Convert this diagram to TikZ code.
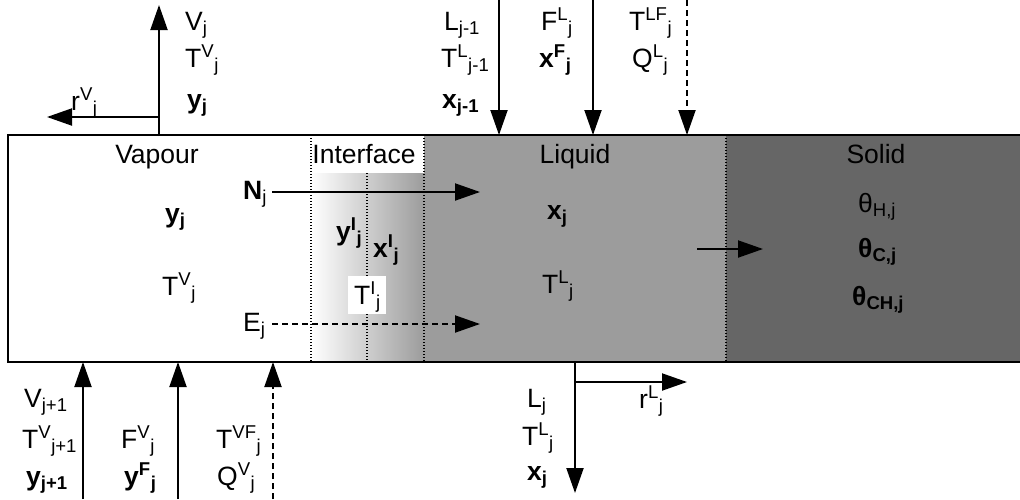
\documentclass[tikz,border=0pt]{standalone}
\usepackage{fontspec}
\setmainfont{Liberation Sans}
\usetikzlibrary{arrows.meta}
\definecolor{liq}{HTML}{9C9C9C}
\definecolor{sol}{HTML}{666666}
\newcommand\myhi[1]{\textsuperscript{#1}}
\newcommand\mylo[1]{\textsubscript{#1}}
\begin{document}
\begin{tikzpicture}[x=1pt,y=-1pt,
  every node/.style={font=\fontsize{26.5}{31}\selectfont, inner sep=0pt},
  lab/.style={anchor=base west},
  ctr/.style={anchor=base},
  flow/.style={line width=2pt, -{Triangle[length=25pt,width=17pt]}},
  dflow/.style={flow, dash pattern=on 6pt off 4pt},
  sep/.style={line width=1.4pt, dash pattern=on 1.4pt off 1.6pt}]
\useasboundingbox (0,0) rectangle (1020,499);
\fill[white] (0,0) rectangle (1020,499);
% regions
\fill[liq] (424,135) rectangle (726,362);
\fill[sol] (726,135) rectangle (1024,362);
\shade[left color=white, right color=liq] (311,173) rectangle (424,362);
\draw[sep] (311,135) -- (311,362);
\draw[sep] (367,173) -- (367,362);
\draw[sep] (424,135) -- (424,362);
\draw[sep] (726,135) -- (726,362);
\draw[line width=2pt] (8,135) rectangle (1024,362);
% region titles
\node[ctr] (tvap) at (157,163) {Vapour};
\node[ctr] (tint) at (364,163) {Interface};
\node[ctr] (tliq) at (575,163) {Liquid};
\node[ctr] (tsol) at (876,163) {Solid};
% interior labels
\node[lab] (yj) at (165,222) {\textbf{y\mylo{j}}};
\node[lab] (tvj) at (162,295) {T\myhi{V}\mylo{j}};
\node[lab] (xj) at (547,219) {\textbf{x\mylo{j}}};
\node[lab] (tlj) at (542,293) {T\myhi{L}\mylo{j}};
\node[lab] (nj) at (243,199) {\textbf{N}\mylo{j}};
\node[lab] (ej) at (243,331) {E\mylo{j}};
\node[lab] (yij) at (336,240) {\textbf{y\myhi{I}\mylo{j}}};
\node[lab] (xij) at (373,257) {\textbf{x\myhi{I}\mylo{j}}};
\fill[white] (348,276) rectangle (386,314);
\node[lab] (tij) at (354,304) {T\myhi{I}\mylo{j}};
\node[lab] (thh) at (858,212) {θ\mylo{H,j}};
\node[lab] (thc) at (858,257) {\textbf{θ\mylo{C,j}}};
\node[lab] (thch) at (852,305) {\textbf{θ\mylo{CH,j}}};
% interior arrows
\coordinate (ns) at (272,192); \coordinate (ne) at (480,192);
\draw[flow] (ns) -- (ne);
\coordinate (es) at (272,324); \coordinate (ee) at (480,324);
\draw[dflow] (es) -- (ee);
\coordinate (ss) at (697,249); \coordinate (se) at (763,249);
\draw[flow] (ss) -- (se);
% vapour out (top left)
\coordinate (vb) at (159,136); \coordinate (vt) at (159,5);
\draw[flow] (vb) -- (vt);
\coordinate (rvb) at (159,117); \coordinate (rvt) at (47,117);
\draw[flow] (rvb) -- (rvt);
\node[lab] (l1) at (185,30) {V\mylo{j}};
\node[lab] (l2) at (185,67) {T\myhi{V}\mylo{j}};
\node[lab] (l3) at (187,108) {\textbf{y\mylo{j}}};
\node[lab] (l4) at (71,110) {r\myhi{V}\mylo{j}};
% liquid in (top right)
\coordinate (a1s) at (499,0); \coordinate (a1e) at (499,135);
\draw[flow] (a1s) -- (a1e);
\coordinate (a2s) at (593,0); \coordinate (a2e) at (593,135);
\draw[flow] (a2s) -- (a2e);
\coordinate (a3s) at (687,0); \coordinate (a3e) at (687,135);
\draw[dflow] (a3s) -- (a3e);
\node[lab] (m1) at (444,30) {L\mylo{j-1}};
\node[lab] (m2) at (441,67) {T\myhi{L}\mylo{j-1}};
\node[lab] (m3) at (442,108) {\textbf{x\mylo{j-1}}};
\node[lab] (m4) at (541,30) {F\myhi{L}\mylo{j}};
\node[lab] (m5) at (539,67) {\textbf{x\myhi{F}\mylo{j}}};
\node[lab] (m6) at (629,30) {T\myhi{LF}\mylo{j}};
\node[lab] (m7) at (632,67) {Q\myhi{L}\mylo{j}};
% vapour in (bottom left)
\coordinate (b1s) at (83,499); \coordinate (b1e) at (83,362);
\draw[flow] (b1s) -- (b1e);
\coordinate (b2s) at (178,499); \coordinate (b2e) at (178,362);
\draw[flow] (b2s) -- (b2e);
\coordinate (b3s) at (273,499); \coordinate (b3e) at (273,362);
\draw[dflow] (b3s) -- (b3e);
\node[lab] (n1) at (24,407) {V\mylo{j+1}};
\node[lab] (n2) at (22,448) {T\myhi{V}\mylo{j+1}};
\node[lab] (n3) at (26,485) {\textbf{y\mylo{j+1}}};
\node[lab] (n4) at (121,448) {F\myhi{V}\mylo{j}};
\node[lab] (n5) at (124,485) {\textbf{y\myhi{F}\mylo{j}}};
\node[lab] (n6) at (216,448) {T\myhi{VF}\mylo{j}};
\node[lab] (n7) at (217,485) {Q\myhi{V}\mylo{j}};
% liquid out (bottom right)
\coordinate (c1s) at (575,361); \coordinate (c1e) at (575,493);
\draw[flow] (c1s) -- (c1e);
\coordinate (c2s) at (575,382); \coordinate (c2e) at (687,382);
\draw[flow] (c2s) -- (c2e);
\node[lab] (o1) at (527,407) {L\mylo{j}};
\node[lab] (o2) at (522,445) {T\myhi{L}\mylo{j}};
\node[lab] (o3) at (527,480) {\textbf{x\mylo{j}}};
\node[lab] (o4) at (639,408) {r\myhi{L}\mylo{j}};
\end{tikzpicture}
\end{document}
